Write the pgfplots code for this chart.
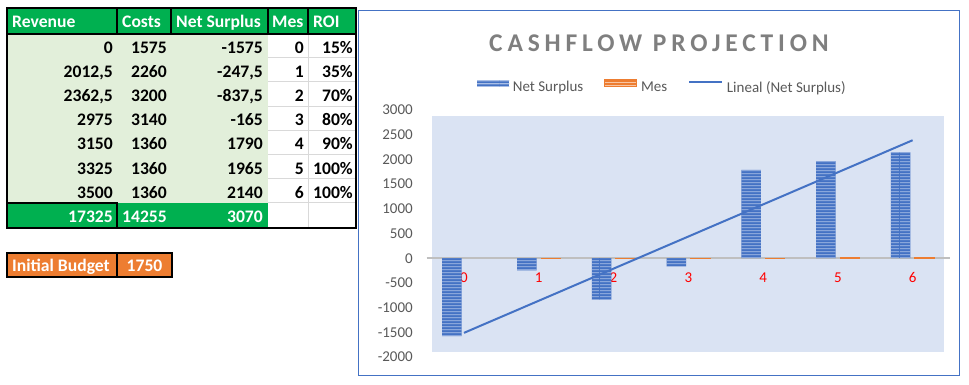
\documentclass[border=0pt]{standalone}
\usepackage{fontspec}
\setmainfont{Carlito}
\newfontfamily\titlefont{Carlito Bold}[LetterSpace=19]
\usepackage{pgfplots}
\pgfplotsset{compat=1.18}
\usetikzlibrary{patterns}
\pgfdeclarepatternformonly{hstripes}{\pgfpointorigin}{\pgfpoint{100pt}{3pt}}{\pgfpoint{100pt}{3pt}}{\pgfsetlinewidth{1pt}\pgfpathmoveto{\pgfpoint{0pt}{1.5pt}}\pgfpathlineto{\pgfpoint{100pt}{1.5pt}}\pgfusepath{stroke}}
\definecolor{hdrgreen}{HTML}{00B050}
\definecolor{lightgreen}{HTML}{E2EFDA}
\definecolor{gridgrey}{HTML}{D9D9D9}
\definecolor{budget}{HTML}{ED7D31}
\definecolor{nsblue}{HTML}{4472C4}
\definecolor{nslight}{HTML}{AFC3E8}
\definecolor{mesorange}{HTML}{ED7D31}
\definecolor{meslight}{HTML}{F8C6A5}
\definecolor{plotbg}{HTML}{DAE3F3}
\definecolor{zerogrey}{HTML}{BFBFBF}
\definecolor{ticktext}{HTML}{595959}
\definecolor{titlegrey}{HTML}{7F7F7F}
\definecolor{chartborder}{HTML}{4472C4}
\tikzset{tb/.style={font=\fontsize{17.6}{20}\selectfont\bfseries, inner sep=0pt}}
\begin{document}
\begin{tikzpicture}[x=1pt,y=1pt]
\fill[white] (0,0) rectangle (969,384);
\useasboundingbox (0,0) rectangle (969,384);
% ---------- table ----------
\fill[hdrgreen] (7,376) rectangle (356,350.5);
\fill[lightgreen] (7,350.5) rectangle (268,181.3);
\fill[hdrgreen] (7,181.3) rectangle (268,156);
\foreach \yy in {326.3,302.2,278,253.8,229.6,205.5,181.3}{\draw[gridgrey, line width=1pt] (268,\yy) -- (356,\yy);}
\draw[gridgrey, line width=1pt] (308,350.5) -- (308,156);
\draw[black, line width=2pt] (7,350.5) -- (356,350.5);
\foreach \xx in {117,171,268,308}{\draw[black, line width=2pt] (\xx,376) -- (\xx,350.5);}
\draw[black, line width=2pt] (7,181.3) -- (117,181.3) -- (117,156);
\draw[black, line width=2.5pt] (7,376) rectangle (356,156);
% header
\node[tb, white, anchor=base west] at (12,356.3) {Revenue};
\node[tb, white, anchor=base west] at (122,356.3) {Costs};
\node[tb, white, anchor=base west] at (176,356.3) {Net Surplus};
\node[tb, white, anchor=base west] at (272,356.3) {Mes};
\node[tb, white, anchor=base west] at (313,356.3) {ROI};
% rows
\node[tb, anchor=base east] at (113,330.8) {0};
\node[tb, anchor=base east] at (167,330.8) {1575};
\node[tb, anchor=base east] at (263,330.8) {-1575};
\node[tb, anchor=base east] at (304,330.8) {0};
\node[tb, anchor=base east] at (353,330.8) {15\%};
\node[tb, anchor=base east] at (113,306.7) {2012,5};
\node[tb, anchor=base east] at (167,306.7) {2260};
\node[tb, anchor=base east] at (263,306.7) {-247,5};
\node[tb, anchor=base east] at (304,306.7) {1};
\node[tb, anchor=base east] at (353,306.7) {35\%};
\node[tb, anchor=base east] at (113,282.5) {2362,5};
\node[tb, anchor=base east] at (167,282.5) {3200};
\node[tb, anchor=base east] at (263,282.5) {-837,5};
\node[tb, anchor=base east] at (304,282.5) {2};
\node[tb, anchor=base east] at (353,282.5) {70\%};
\node[tb, anchor=base east] at (113,258.3) {2975};
\node[tb, anchor=base east] at (167,258.3) {3140};
\node[tb, anchor=base east] at (263,258.3) {-165};
\node[tb, anchor=base east] at (304,258.3) {3};
\node[tb, anchor=base east] at (353,258.3) {80\%};
\node[tb, anchor=base east] at (113,234.1) {3150};
\node[tb, anchor=base east] at (167,234.1) {1360};
\node[tb, anchor=base east] at (263,234.1) {1790};
\node[tb, anchor=base east] at (304,234.1) {4};
\node[tb, anchor=base east] at (353,234.1) {90\%};
\node[tb, anchor=base east] at (113,210.0) {3325};
\node[tb, anchor=base east] at (167,210.0) {1360};
\node[tb, anchor=base east] at (263,210.0) {1965};
\node[tb, anchor=base east] at (304,210.0) {5};
\node[tb, anchor=base east] at (353,210.0) {100\%};
\node[tb, anchor=base east] at (113,185.8) {3500};
\node[tb, anchor=base east] at (167,185.8) {1360};
\node[tb, anchor=base east] at (263,185.8) {2140};
\node[tb, anchor=base east] at (304,185.8) {6};
\node[tb, anchor=base east] at (353,185.8) {100\%};
% totals
\node[tb, white, anchor=base east] at (113,161.7) {17325};
\node[tb, white, anchor=base east] at (167,161.7) {14255};
\node[tb, white, anchor=base east] at (263,161.7) {3070};
% initial budget
\fill[budget] (7,131) rectangle (172,107);
\draw[black, line width=2pt] (7,131) rectangle (172,107);
\draw[black, line width=2pt] (117,131) -- (117,107);
\node[tb, white, anchor=base west] at (12,112.3) {Initial Budget};
\node[tb, white, anchor=base] at (144.5,112.3) {1750};
% ---------- chart ----------
\draw[chartborder, line width=1pt] (358.5,373.5) rectangle (959.5,8.5);
\fill[plotbg] (432,32) rectangle (944,268);
\node[titlegrey, anchor=base, inner sep=0pt, font={\titlefont\fontsize{25.5}{30}\selectfont}] at (659,333) {CASHFLOW PROJECTION};
\begin{axis}[
  at={(426.6pt,27pt)}, anchor=south west,
  width=523.4pt, height=247pt, scale only axis,
  xmin=-0.5, xmax=6.5, ymin=-2000, ymax=3000,
  axis x line=middle, axis y line=left,
  x axis line style={draw=zerogrey, line width=2pt, -},
  y axis line style={draw=none, -},
  major tick length=0pt,
  hide obscured x ticks=false, hide obscured y ticks=false,
  xtick={0,1,2,3,4,5,6}, xticklabels={0,1,2,3,4,5,6},
  ytick={-2000,-1500,-1000,-500,0,500,1000,1500,2000,2500,3000},
  yticklabels={-2000,-1500,-1000,-500,0,500,1000,1500,2000,2500,3000},
  xticklabel style={text=red, anchor=north, inner sep=0pt, yshift=-14pt, font=\fontsize{15}{18}\selectfont},
  yticklabel style={text=ticktext, anchor=east, inner sep=0pt, xshift=-13.6pt, font=\fontsize{15}{18}\selectfont},
  legend columns=3,
  legend style={at={(0.4486,1.096)}, anchor=center, draw=none, fill=none,
    font=\fontsize{15}{18}\selectfont, text=ticktext,
    nodes={inner sep=0pt},
    /tikz/every odd column/.append style={column sep=3.7pt},
    /tikz/every even column/.append style={column sep=21pt}},
  clip=false,
]
\addplot[ybar, bar width=19.5pt, bar shift=-12pt, fill=nsblue, draw=none,
  postaction={pattern=hstripes, pattern color=nslight},
  legend image code/.code={\fill[nsblue] (0pt,0.7pt) rectangle (32pt,7.7pt);
    \fill[pattern=hstripes, pattern color=nslight] (0pt,0.7pt) rectangle (32pt,7.7pt);}]
  coordinates {(0,-1575) (1,-247.5) (2,-837.5) (3,-165) (4,1790) (5,1965) (6,2140)};
\addlegendentry{Net Surplus}
\addplot[ybar, bar width=19.5pt, bar shift=12pt, fill=mesorange, draw=mesorange, line width=1pt,
  legend image code/.code={\fill[mesorange] (0pt,0.7pt) rectangle (32pt,7.7pt);
    \fill[pattern=hstripes, pattern color=meslight] (0pt,0.7pt) rectangle (32pt,7.7pt);}]
  coordinates {(1,1) (2,2) (3,3) (4,4) (5,5) (6,6)};
\addlegendentry{Mes}
\addplot[nsblue, line width=2pt, no marks,
  legend image code/.code={\draw[nsblue, line width=2pt] (0pt,5pt) -- (33pt,5pt);}]
  coordinates {(0,-1511.1) (6,2388.3)};
\addlegendentry{Lineal (Net Surplus)}
\end{axis}
\end{tikzpicture}
\end{document}
